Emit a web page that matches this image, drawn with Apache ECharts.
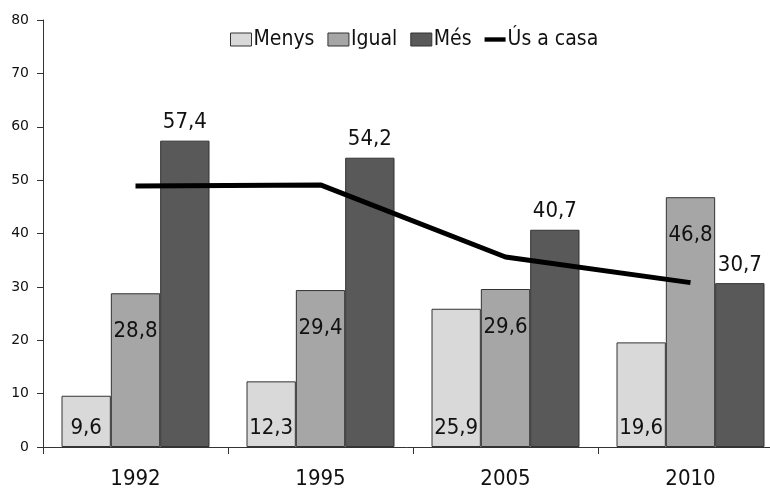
<!DOCTYPE html>
<html><head><meta charset="utf-8">
<script src="https://cdn.jsdelivr.net/npm/echarts@6/dist/echarts.min.js"></script>
<style>html,body{margin:0;padding:0;background:#fff;overflow:hidden}#c{width:770px;height:490px}</style>
</head><body><div id="c"></div>
<script>
const categories = ['1992','1995','2005','2010'];
const menys = [9.6, 12.3, 25.9, 19.6];
const igual = [28.8, 29.4, 29.6, 46.8];
const mes = [57.4, 54.2, 40.7, 30.7];
const usACasa = [48.9, 49.1, 35.6, 30.8];
const yTicks = [0,10,20,30,40,50,60,70,80];

const NARROW = '"DejaVu Sans Condensed","DejaVu Sans",sans-serif';
const FONT = '"DejaVu Sans",sans-serif';
const fmt = v => String(v).replace('.', ',');
const chart = echarts.init(document.getElementById('c'));
const labelBase = {show:true, fontFamily:NARROW, fontSize:22, color:'#111', formatter:p=>fmt(p.value)};
chart.setOption({
  animation:false,
  textStyle:{fontFamily:NARROW},
  grid:{left:43, width:740, top:20, height:427, outerBoundsMode:'none', containLabel:false},
  legend:{
    top:24, left:225, itemGap:13, itemWidth:21, itemHeight:13,
    textStyle:{fontFamily:NARROW, fontSize:21, color:'#111', padding:[0,0,0,-3]},
    data:[
      {name:'Menys', icon:'rect', itemStyle:{borderColor:'#333', borderWidth:1}},
      {name:'Igual', icon:'rect', itemStyle:{borderColor:'#333', borderWidth:1}},
      {name:'Més', icon:'rect', itemStyle:{borderColor:'#333', borderWidth:1}},
      {name:'Ús a casa', icon:'path://M0,0 L24,0 L24,5 L0,5 Z', itemStyle:{color:'#000'}}
    ]
  },
  xAxis:{
    type:'category', data:categories,
    axisLine:{lineStyle:{color:'#333', width:1}},
    axisTick:{show:true, alignWithLabel:false, length:7, lineStyle:{color:'#333'}},
    axisLabel:{fontFamily:NARROW, fontSize:22, color:'#111', margin:21}
  },
  yAxis:{
    type:'value', min:0, max:80, interval:10,
    splitLine:{show:false},
    axisLine:{show:true, lineStyle:{color:'#333'}},
    axisTick:{show:true, length:6, lineStyle:{color:'#333'}},
    axisLabel:{fontFamily:FONT, fontSize:14, color:'#111', margin:14,
      formatter:v=>yTicks.includes(v)?String(v):''}
  },
  series:[
    {name:'Menys', type:'bar', data:menys, barGap:'0%', barCategoryGap:'20%',
      itemStyle:{color:'#d9d9d9', borderColor:'#333', borderWidth:1},
      label:Object.assign({}, labelBase, {position:'insideBottom', distance:8})},
    {name:'Igual', type:'bar', data:igual, barGap:'0%', barCategoryGap:'20%',
      itemStyle:{color:'#a6a6a6', borderColor:'#333', borderWidth:1},
      label:Object.assign({}, labelBase, {position:'insideTop', distance:27})},
    {name:'Més', type:'bar', data:mes, barGap:'0%', barCategoryGap:'20%',
      itemStyle:{color:'#595959', borderColor:'#333', borderWidth:1},
      label:Object.assign({}, labelBase, {position:'top', distance:7})},
    {name:'Ús a casa', type:'line', data:usACasa, symbol:'none', z:5,
      lineStyle:{color:'#000', width:5}, itemStyle:{color:'#000'}}
  ]
});
</script></body></html>
